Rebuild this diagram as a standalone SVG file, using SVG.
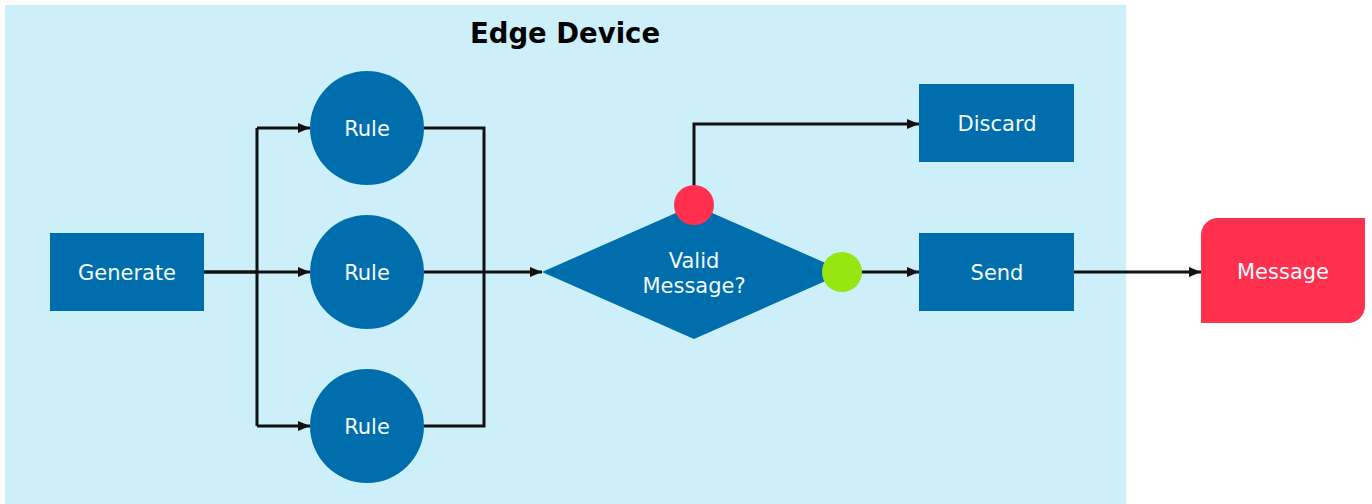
<svg xmlns="http://www.w3.org/2000/svg" width="1372" height="504" viewBox="0 0 1372 504">
  <style>
    .node { fill: #006eac; }
    .label { font-family: "DejaVu Sans", Verdana, sans-serif; font-size: 21px; fill: #f4faff; text-anchor: middle; dominant-baseline: central; }
    .title { font-family: "DejaVu Sans", Verdana, sans-serif; font-size: 27.5px; font-weight: bold; fill: #000; text-anchor: middle; }
    .wire { fill: none; stroke: #111; stroke-width: 3; stroke-linejoin: miter; }
    .wire.arrow { marker-end: url(#head); }
  </style>
  <defs>
    <marker id="head" viewBox="0 0 12 10" refX="12" refY="5" markerWidth="12" markerHeight="10" markerUnits="userSpaceOnUse" orient="auto">
      <path d="M0,0 L12,5 L0,10 Z" fill="#111"/>
    </marker>
  </defs>

  <!-- device boundary -->
  <g id="edge-device">
    <rect x="5" y="5" width="1121" height="499" fill="#cdeff9"/>
    <text class="title" x="565" y="43">Edge Device</text>
  </g>

  <!-- connectors -->
  <g id="connectors">
    <path class="wire" d="M204,272 H257 M257,128 V426"/>
    <path class="wire arrow" d="M257,128 H310"/>
    <path class="wire arrow" d="M204,272 H310"/>
    <path class="wire arrow" d="M257,426 H310"/>
    <path class="wire" d="M424,128 H484 V426 H424 M424,272 H484"/>
    <path class="wire arrow" d="M484,272 H542"/>
    <path class="wire arrow" d="M694,190 V124 H919"/>
    <path class="wire arrow" d="M860,272 H919"/>
    <path class="wire arrow" d="M1074,272 H1201"/>
  </g>

  <g id="generate">
    <rect class="node" x="50" y="233" width="154" height="78"/>
    <text class="label" x="127" y="273">Generate</text>
  </g>

  <g id="rule-1">
    <circle class="node" cx="367" cy="128" r="57"/>
    <text class="label" x="367" y="129">Rule</text>
  </g>
  <g id="rule-2">
    <circle class="node" cx="367" cy="272" r="57"/>
    <text class="label" x="367" y="273">Rule</text>
  </g>
  <g id="rule-3">
    <circle class="node" cx="367" cy="426" r="57"/>
    <text class="label" x="367" y="427">Rule</text>
  </g>

  <g id="valid-message">
    <polygon class="node" points="542,272 694,205 846,272 694,339"/>
    <text class="label" x="694" y="261">Valid</text>
    <text class="label" x="694" y="286">Message?</text>
    <circle cx="694" cy="205" r="20" fill="#ff314e"/>
    <circle cx="842" cy="272" r="20" fill="#96e614"/>
  </g>

  <g id="discard">
    <rect class="node" x="919" y="84" width="155" height="78"/>
    <text class="label" x="997" y="124">Discard</text>
  </g>

  <g id="send">
    <rect class="node" x="919" y="233" width="155" height="78"/>
    <text class="label" x="997" y="273">Send</text>
  </g>

  <g id="message">
    <path d="M1218,218 H1365 V306 A17,17 0 0 1 1348,323 H1201 V235 A17,17 0 0 1 1218,218 Z" fill="#ff314e"/>
    <text class="label" x="1283" y="272">Message</text>
  </g>
</svg>
